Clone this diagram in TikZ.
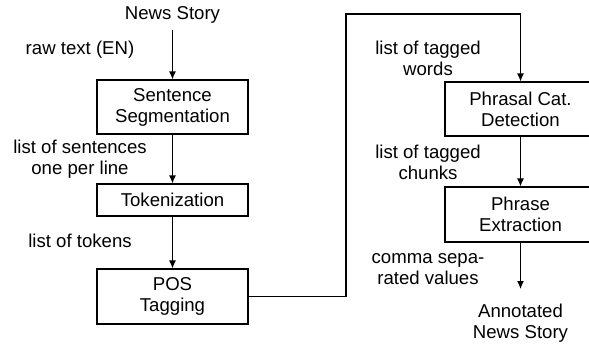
\documentclass[tikz,border=0pt]{standalone}
\usepackage{fontspec}
\setmainfont{Liberation Sans}
\usetikzlibrary{arrows.meta}

\tikzset{
  stage/.style={draw, line width=1.1pt, minimum width=151pt, align=center,
                inner sep=0pt, font=\fontsize{18.6}{21}\selectfont},
  note/.style={align=center, inner sep=0pt, font=\fontsize{18.6}{21}\selectfont},
  flow/.style={line width=1.1pt, -{Latex[length=8pt,width=7pt]}},
  link/.style={line width=1.1pt}
}

\begin{document}
\begin{tikzpicture}[x=1pt, y=-1pt]
  \clip (0,0) rectangle (589,343);
  \fill[white] (0,0) rectangle (589,343);

  % left column: preprocessing stages
  \node[note] (src) at (172.5,14.5) {News Story};
  \node[stage, minimum height=54pt] (sent) at (172.5,107) {Sentence\\Segmentation};
  \node[stage, minimum height=32pt] (tok) at (172.5,200) {Tokenization};
  \node[stage, minimum height=55pt] (pos) at (172.5,296.5) {POS\\Tagging};

  % right column: chunking and extraction
  \node[stage, minimum height=54pt] (phr) at (520.5,109) {Phrasal Cat.\\Detection};
  \node[stage, minimum height=55pt] (ext) at (520.5,214.5) {Phrase\\Extraction};
  \node[note] (out) at (520.5,323) {Annotated\\News Story};

  % data labels on the connectors
  \node[note] (l1) at (80,50) {raw text (EN)};
  \node[note] (l2) at (80,159) {list of sentences\\one per line};
  \node[note] (l3) at (80,241) {list of tokens};
  \node[note] (l4) at (428,58) {list of tagged\\words};
  \node[note] (l5) at (428,162) {list of tagged\\chunks};
  \node[note] (l6) at (428,269) {comma sepa-\\rated values};

  % connectors
  \coordinate (srcend) at (172.5,30);
  \coordinate (c1) at (346,296.5);
  \coordinate (c2) at (346,14);
  \coordinate (c3) at (520.5,14);
  \coordinate (outtop) at (520.5,289);

  \draw[flow] (srcend) -- (sent.north);
  \draw[flow] (sent.south) -- (tok.north);
  \draw[flow] (tok.south) -- (pos.north);
  \draw[link] (pos.east) -- (c1) -- (c2) -- (c3);
  \draw[flow] (c3) -- (phr.north);
  \draw[flow] (phr.south) -- (ext.north);
  \draw[flow] (ext.south) -- (outtop);
\end{tikzpicture}
\end{document}
